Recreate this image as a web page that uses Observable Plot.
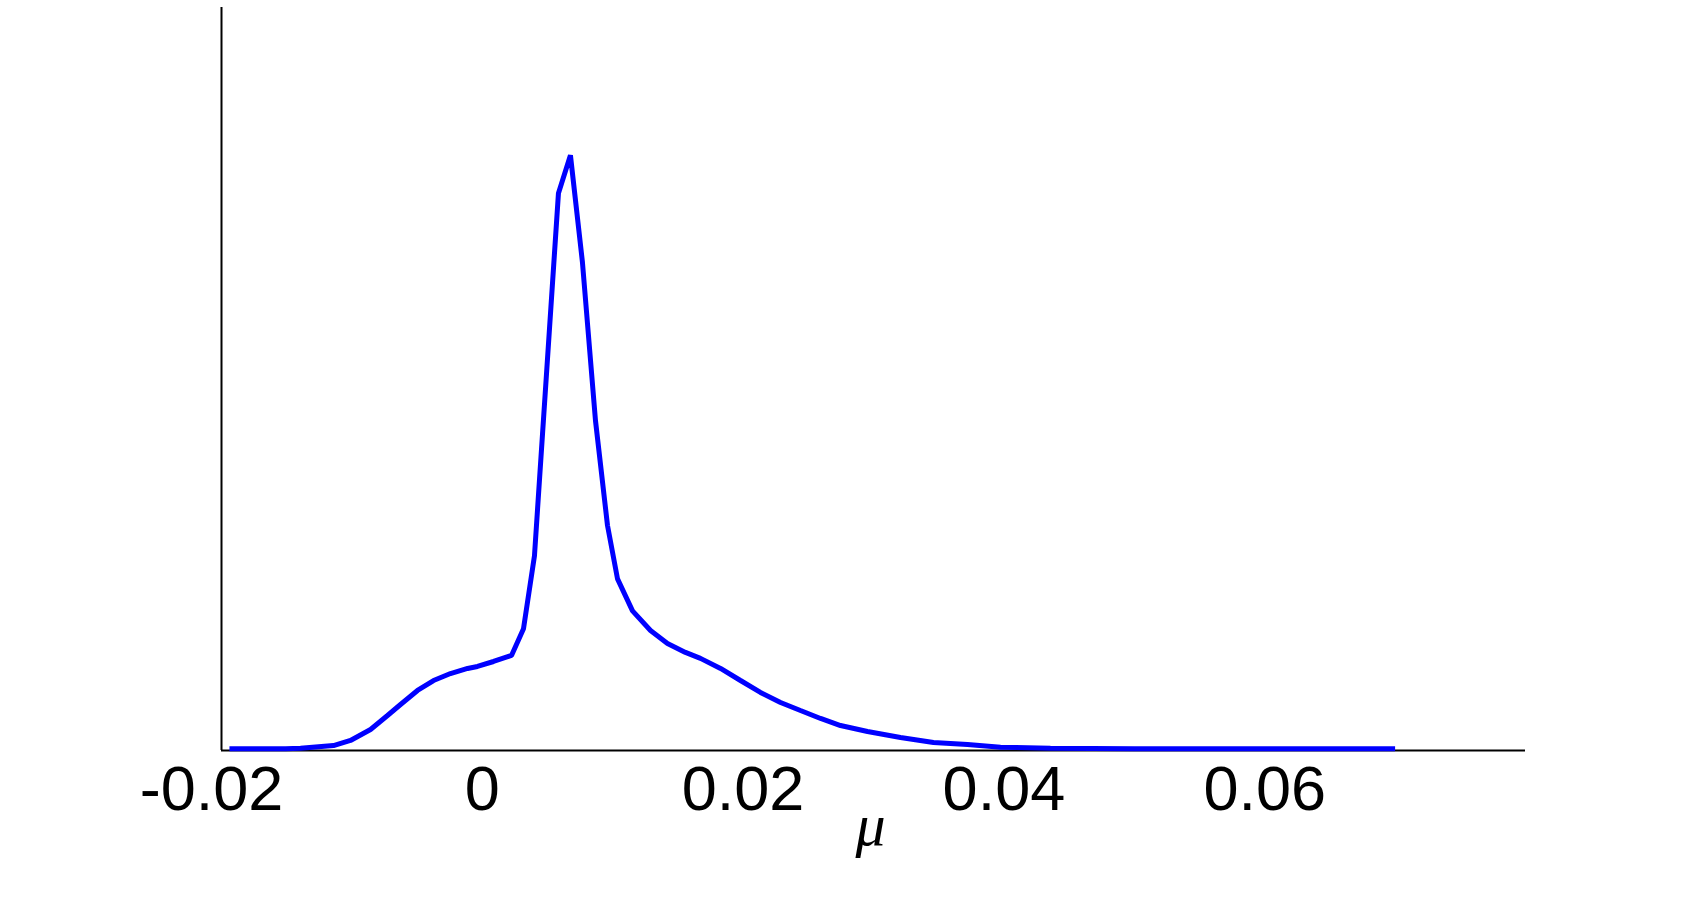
<!DOCTYPE html>
<html>
<head>
<meta charset="utf-8">
<script src="https://cdn.jsdelivr.net/npm/d3@7"></script>
<script src="https://cdn.jsdelivr.net/npm/@observablehq/plot@0.6"></script>
<style>
  html, body { margin: 0; padding: 0; background: #fff; }
  #chart svg { display: block; }
</style>
</head>
<body>
<div id="chart"></div>
<script>
// posterior density of mu (arbitrary y units)
const mu = [
  -0.01939, -0.01509, -0.01394, -0.01141, -0.01011, -0.00857, -0.00727, -0.00627,
  -0.00497, -0.00374, -0.00244, -0.00113, -0.00037, 0.00086, 0.00224, 0.00316,
  0.00400, 0.00584, 0.00676, 0.00768, 0.00868, 0.00960, 0.01037, 0.01152,
  0.01290, 0.01420, 0.01558, 0.01673, 0.01827, 0.01980, 0.02133, 0.02287,
  0.02440, 0.02594, 0.02747, 0.02954, 0.03207, 0.03460, 0.03721, 0.03974,
  0.04357, 0.05000, 0.06000, 0.07000
];
const density = [
  0.25, 0.25, 0.31, 0.67, 1.35, 2.83, 4.71, 6.19,
  8.08, 9.42, 10.36, 11.04, 11.31, 11.98, 12.79, 16.4,
  26.2, 75.0, 80.1, 65.7, 44.4, 30.3, 23.1, 18.8,
  16.15, 14.4, 13.2, 12.4, 11.04, 9.42, 7.81, 6.46,
  5.38, 4.31, 3.36, 2.56, 1.75, 1.08, 0.81, 0.45,
  0.3, 0.25, 0.24, 0.24
];
const xTicks = [-0.02, 0, 0.02, 0.04, 0.06];
const xDomain = [-0.02, 0.08];
const yDomain = [0, 100];
const xLabel = "μ";

const data = mu.map((m, i) => ({mu: m, d: density[i]}));
const fmt = d => String(d);

const chart = Plot.plot({
  width: 1681,
  height: 910,
  marginLeft: 221,
  marginRight: 156,
  marginTop: 7,
  marginBottom: 160,
  style: {fontFamily: "'Liberation Sans', Arial, sans-serif", background: "#fff", color: "#000"},
  x: {domain: xDomain},
  y: {domain: yDomain},
  marks: [
    Plot.ruleY([0], {stroke: "#000", strokeWidth: 2}),
    Plot.ruleX([xDomain[0]], {stroke: "#000", strokeWidth: 2}),
    Plot.axisX(xTicks.filter(t => t < 0), {
      tickSize: 0, tickPadding: 15, fontSize: 63, tickFormat: fmt, dx: -10, fill: "#000"
    }),
    Plot.axisX(xTicks.filter(t => t >= 0), {
      tickSize: 0, tickPadding: 15, fontSize: 63, tickFormat: fmt, label: null, fill: "#000"
    }),
    Plot.axisY({ticks: [], label: null, tickSize: 0}),
    Plot.line(data, {
      x: "mu", y: "d", stroke: "#0000ff", strokeWidth: 5,
      strokeLinejoin: "miter", strokeLinecap: "butt", curve: "linear"
    }),
    Plot.text([xLabel], {
      frameAnchor: "bottom", dy: 94, lineAnchor: "bottom",
      fontSize: 60, fontStyle: "italic", fontFamily: "'Liberation Serif', 'DejaVu Serif', serif",
      fill: "#000", dx: -3
    })
  ]
});
chart.querySelectorAll('[aria-label="x-axis label"]').forEach(n => n.remove());
document.getElementById("chart").appendChild(chart);
</script>
</body>
</html>
